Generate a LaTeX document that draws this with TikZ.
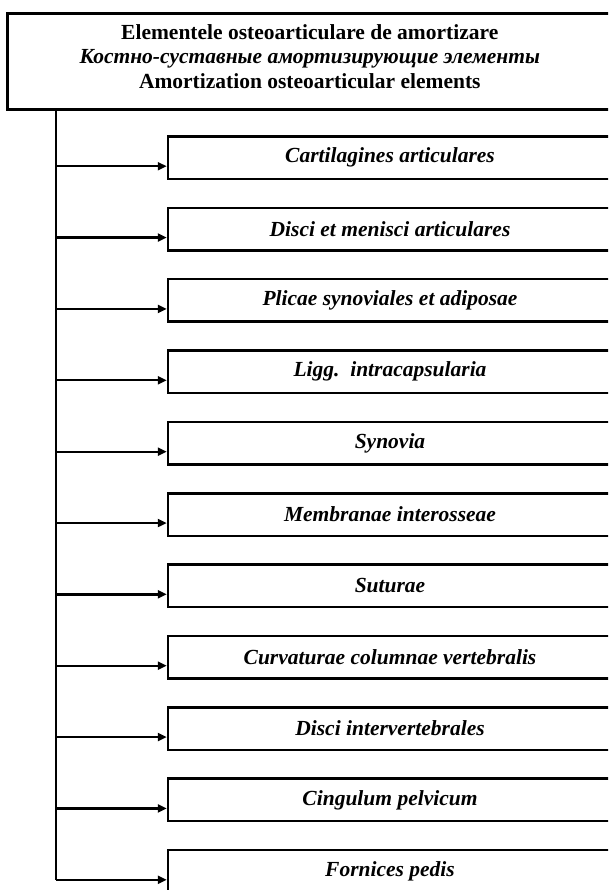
\documentclass[tikz,border=0pt]{standalone}
\usepackage{fontspec}
\setmainfont{Liberation Serif}
\usetikzlibrary{arrows.meta}
\begin{document}
\begin{tikzpicture}[x=1pt,y=-1pt,
  topbox/.style={draw,line width=3pt,minimum width=604.5pt,minimum height=96.5pt,inner sep=0pt},
  toptext/.style={align=center,inner sep=0pt,font=\fontsize{21.5}{24.5}\selectfont},
  itembox/.style={draw,line width=2.5pt,minimum width=444pt,minimum height=42.5pt,inner sep=0pt,font=\fontsize{21.5}{23}\selectfont\bfseries\itshape},
  conn/.style={line width=2.3pt},
  arr/.style={conn,-{Triangle[length=9pt,width=8pt]}}]
\useasboundingbox (0,0) rectangle (608,890);
\clip (0,0) rectangle (608,890);
\node[topbox] (top) at (309.75,61.75) {};
\node[toptext] (toptxt) at ([yshift=5.5pt]top.center) {\textbf{Elementele osteoarticulare de amortizare}\\\textbf{\textit{Костно-суставные амортизирующие элементы}}\\\textbf{Amortization osteoarticular elements}};
\path (top.south west) ++(50.2,0) coordinate (tk);
\foreach \lbl [count=\i from 0] in {{Cartilagines articulares},{Disci et menisci articulares},{Plicae synoviales et adiposae},{Ligg.\ \ intracapsularia},{Synovia},{Membranae interosseae},{Suturae},{Curvaturae columnae vertebralis},{Disci intervertebrales},{Cingulum pelvicum},{Fornices pedis}} {
  \node[itembox] (c\i) at (390,157.75+71.35*\i) {\lbl};
  \coordinate (a\i) at ([yshift=14pt]c\i.south west);
  \coordinate (t\i) at (a\i -| tk);
  \draw[arr] (t\i) -- (a\i);
}
\draw[conn] (tk) -- (t10);
\end{tikzpicture}
\end{document}
